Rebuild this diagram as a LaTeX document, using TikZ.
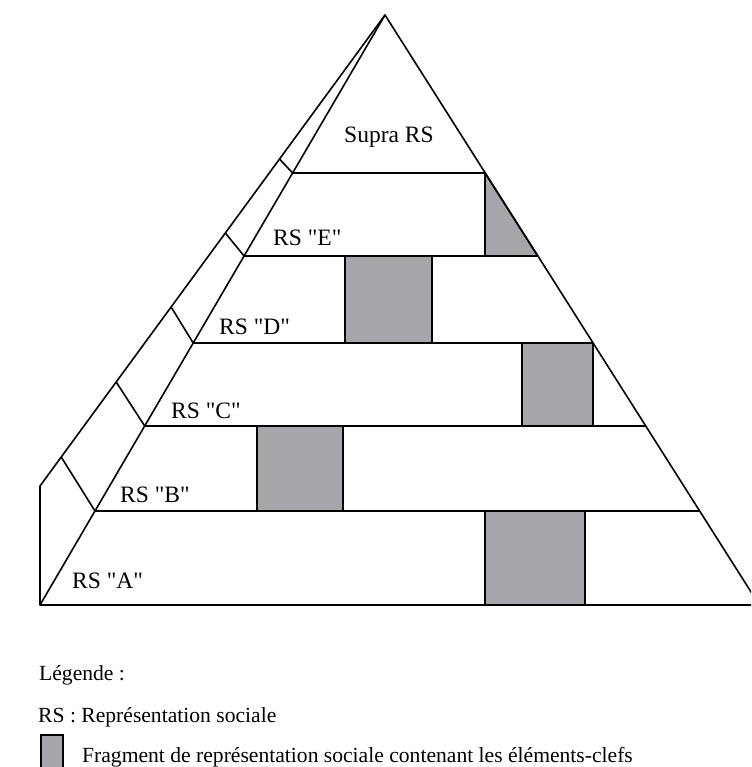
\documentclass[tikz,border=0pt]{standalone}
\usepackage{fontspec}
\setmainfont{Liberation Serif}
\definecolor{fraggray}{RGB}{166,166,170}
\newcommand{\rsq}[1]{RS \textquotedbl #1\textquotedbl}
\tikzset{
  edge/.style={line width=1.6pt, line join=round},
  frag/.style={fill=fraggray, draw, line width=1.6pt},
  rslabel/.style={anchor=base west, inner sep=0pt, font=\fontsize{23.5}{28}\selectfont},
  leglabel/.style={anchor=base west, inner sep=0pt, font=\fontsize{21.6}{26}\selectfont}
}
\begin{document}
\begin{tikzpicture}[x=1pt,y=-1pt]
\useasboundingbox (0,0) rectangle (751,767);
\clip (0,0) rectangle (751,767);
\coordinate (apex) at (385,15);
\coordinate (bl) at (40,605);
\coordinate (br) at (759.3,605);
\coordinate (tl) at (40,486);
\coordinate (l1) at (292.6,173);
\coordinate (l2) at (244.1,256);
\coordinate (l3) at (193.2,343);
\coordinate (l4) at (144.7,426);
\coordinate (l5) at (95,511);
\coordinate (r1) at (485,173);
\coordinate (r2) at (537.7,256);
\coordinate (r3) at (593,343);
\coordinate (r4) at (645.7,426);
\coordinate (r5) at (699.6,511);
\coordinate (o1) at (279.5,159);
\coordinate (o2) at (225.3,233);
\coordinate (o3) at (171.1,307);
\coordinate (o4) at (116.2,382);
\coordinate (o5) at (61.2,457);
\filldraw[frag] (r1) -- (485,256) -- (r2) -- cycle;
\filldraw[frag] (345,256) rectangle (432,343);
\filldraw[frag] (522,343) rectangle (593,426);
\filldraw[frag] (257,426) rectangle (343,511);
\filldraw[frag] (485,511) rectangle (585,605);
\draw[edge] (tl) -- (apex) -- (br) -- (bl) -- cycle;
\draw[edge] (bl) -- (apex);
\draw[edge] (l1) -- (r1);
\draw[edge] (l2) -- (r2);
\draw[edge] (l3) -- (r3);
\draw[edge] (l4) -- (r4);
\draw[edge] (l5) -- (r5);
\draw[edge] (l1) -- (o1);
\draw[edge] (l2) -- (o2);
\draw[edge] (l3) -- (o3);
\draw[edge] (l4) -- (o4);
\draw[edge] (l5) -- (o5);
\node[rslabel] (sup) at (344,143) {Supra RS};
\node[rslabel] (e) at (273,245) {\rsq{E}};
\node[rslabel] (d) at (219,334) {\rsq{D}};
\node[rslabel] (c) at (171,418) {\rsq{C}};
\node[rslabel] (b) at (120,502) {\rsq{B}};
\node[rslabel] (a) at (72,588) {\rsq{A}};
\node[leglabel] (leg) at (39,680) {Légende :};
\node[leglabel] (rs) at (38,722) {RS : Représentation sociale};
\filldraw[frag] (41,735) rectangle (63,772);
\node[leglabel] (frag) at (82,762) {Fragment de représentation sociale contenant les éléments-clefs};
\end{tikzpicture}
\end{document}
